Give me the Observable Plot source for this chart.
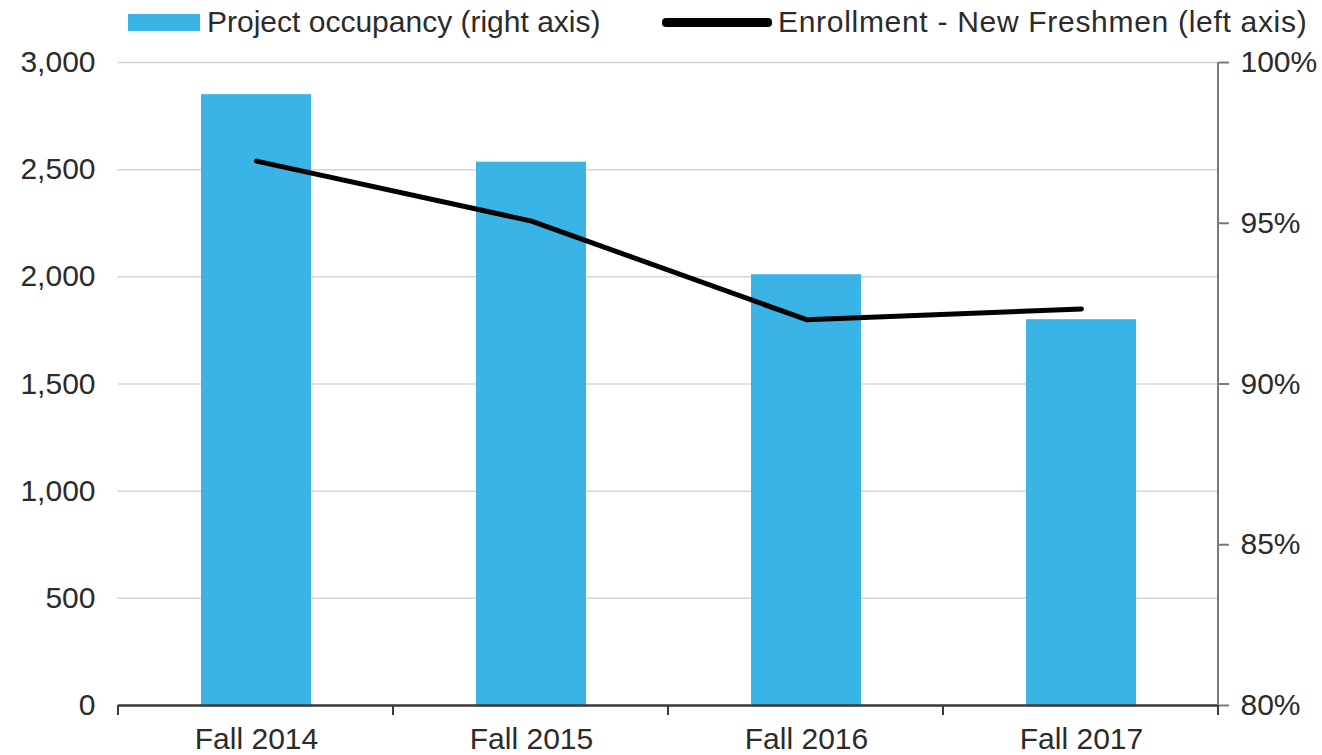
<!DOCTYPE html>
<html><head><meta charset="utf-8">
<script src="https://cdn.jsdelivr.net/npm/d3@7"></script>
<script src="https://cdn.jsdelivr.net/npm/@observablehq/plot@0.6"></script>
<style>
body{margin:0;background:#fff;font-family:"Liberation Sans",Arial,sans-serif;}
#legend{position:relative;width:1322px;height:45px;font-size:30px;color:#2b2b2b;}
#legend .item{position:absolute;top:5px;display:flex;align-items:center;white-space:nowrap;line-height:34px;}
#legend .sw-bar{display:inline-block;width:72px;height:17px;background:#3AB4E6;margin-right:7px;}
#legend .sw-line{display:inline-block;width:110px;height:9px;background:#000;border-radius:4px;margin-right:6px;}
</style></head><body>
<div id="legend">
  <div class="item" style="left:128px"><span class="sw-bar"></span>Project occupancy (right axis)</div>
  <div class="item" style="left:662px;letter-spacing:0.7px"><span class="sw-line"></span>Enrollment - New Freshmen (left axis)</div>
</div>
<div id="chart"></div>
<script>
const terms = ["Fall 2014", "Fall 2015", "Fall 2016", "Fall 2017"];
const occupancyPct = [99.0, 96.9, 93.4, 92.0];
const enrollment = [2540, 2260, 1800, 1850];
const leftTicks = [0, 500, 1000, 1500, 2000, 2500, 3000];
const rightTicks = [80, 85, 90, 95, 100];
const pctMin = 80, pctMax = 100, enrollMax = 3000;

const toLeft = p => (p - pctMin) / (pctMax - pctMin) * enrollMax;
const toPct = v => v / enrollMax * (pctMax - pctMin) + pctMin;
const rows = terms.map((t, i) => ({term: t, occ: occupancyPct[i], enr: enrollment[i]}));

// band-edge ticks on the bottom axis and the right axis line
const frameExtras = (index, scales, values, dims) => {
  const g = d3.create("svg:g");
  const x0 = dims.marginLeft, x1 = dims.width - dims.marginRight;
  const yb = scales.y(0), yt = scales.y(enrollMax);
  const n = terms.length;
  for (let i = 0; i <= n; i++) {
    const x = x0 + (x1 - x0) * i / n;
    g.append("line").attr("x1", x).attr("x2", x).attr("y1", yb).attr("y2", yb + 10)
      .attr("stroke", "#3a3a3a").attr("stroke-width", 2);
  }
  g.append("line").attr("x1", x1).attr("x2", x1).attr("y1", yt).attr("y2", yb)
    .attr("stroke", "#7a7a7a").attr("stroke-width", 2);
  return g.node();
};

const chart = Plot.plot({
  width: 1322,
  height: 710,
  marginTop: 17,
  marginBottom: 50,
  marginLeft: 118,
  marginRight: 104,
  style: {fontFamily: "'Liberation Sans', Arial, sans-serif", fontSize: "30px", color: "#2b2b2b", background: "transparent"},
  x: {domain: terms, paddingInner: 0.6, paddingOuter: 0.3, label: null},
  y: {domain: [0, enrollMax], label: null},
  marks: [
    Plot.gridY({ticks: leftTicks, stroke: "#d4d4d4", strokeOpacity: 1, strokeWidth: 1.5}),
    Plot.barY(rows, {x: "term", y: d => toLeft(d.occ), fill: "#3AB4E6"}),
    Plot.ruleY([0], {stroke: "#3a3a3a", strokeWidth: 2.5}),
    frameExtras,
    Plot.lineY(rows, {x: "term", y: "enr", stroke: "#000", strokeWidth: 5}),
    Plot.axisY({ticks: leftTicks, anchor: "left", tickSize: 0, tickPadding: 23, tickFormat: d3.format(","), label: null}),
    Plot.axisY({ticks: rightTicks.map(toLeft), anchor: "right", tickSize: 10, tickPadding: 12, stroke: "#7a7a7a", strokeWidth: 2, tickFormat: v => Math.round(toPct(v)) + "%", label: null}),
    Plot.axisX({tickSize: 0, tickPadding: 22, label: null})
  ]
});
document.getElementById("chart").appendChild(chart);
</script>
</body></html>
